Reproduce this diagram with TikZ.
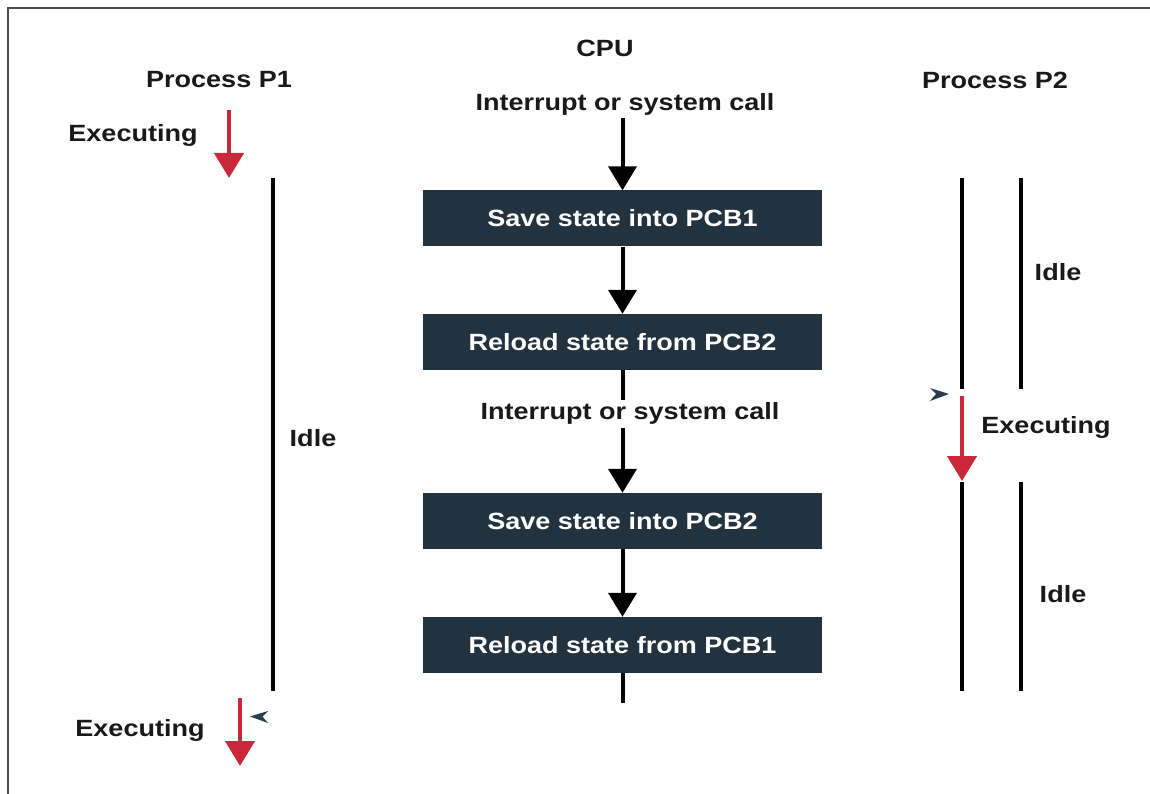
\documentclass[tikz,border=0pt]{standalone}
\usepackage{fontspec}
\setmainfont{Liberation Sans}[FakeStretch=1.15]
\usetikzlibrary{arrows.meta}
\definecolor{boxc}{HTML}{22323F}
\definecolor{redc}{HTML}{C8283A}
\definecolor{headc}{HTML}{2B3D4F}
\tikzset{
  lbl/.style={font=\fontsize{23.5}{28}\selectfont\bfseries, inner sep=0pt, text=black!90},
  box/.style={fill=boxc, minimum width=399pt, minimum height=56pt, inner sep=0pt,
    font=\fontsize{23.5}{28}\selectfont\bfseries, text=white},
  flow/.style={line width=4pt, -{Triangle[width=28pt,length=24pt]}},
  plain/.style={line width=4pt},
  redarrow/.style={line width=4.5pt, redc, -{Triangle[width=29pt,length=25pt]}},
  idle/.style={line width=4pt}
}
\begin{document}
\begin{tikzpicture}[x=1pt,y=-1pt]
\useasboundingbox (0,0) rectangle (1150,794);
\draw[line width=2pt, black!70] (8,794) -- (8,8) -- (1150,8);

% headings
\node[lbl] (cpu) at (605,48) {CPU};
\node[lbl] (p1) at (219,80) {Process P1};
\node[lbl] (p2) at (995,80) {Process P2};

% CPU column
\node[lbl] (int1) at (625,104) {Interrupt or system call};
\node[box] (b1) at (622.5,218.5) {Save state into PCB1};
\node[box] (b2) at (622.5,342) {Reload state from PCB2};
\node[lbl] (int2) at (630,413) {Interrupt or system call};
\node[box] (b3) at (622.5,521) {Save state into PCB2};
\node[box] (b4) at (622.5,645) {Reload state from PCB1};
\coordinate (a1) at (622.5,118);
\coordinate (a2) at (622.5,400);
\coordinate (a3) at (622.5,428);
\coordinate (a4) at (622.5,703);

\draw[flow] (a1) -- (b1.north);
\draw[flow] (b1.south) -- (b2.north);
\draw[plain] (b2.south) -- (a2);
\draw[flow] (a3) -- (b3.north);
\draw[flow] (b3.south) -- (b4.north);
\draw[plain] (b4.south) -- (a4);

% Process P1
\node[lbl] (ex1) at (133,135) {Executing};
\coordinate (r1s) at (229,110);
\coordinate (r1e) at (229,178);
\draw[redarrow] (r1s) -- (r1e);
\coordinate (l1s) at (273,178);
\coordinate (l1e) at (273,691);
\draw[idle] (l1s) -- (l1e);
\node[lbl] (idle1) at (313,438) {Idle};
\node[lbl] (ex2) at (140,730) {Executing};
\coordinate (r2s) at (240,698);
\coordinate (r2e) at (240,766);
\draw[redarrow] (r2s) -- (r2e);
\fill[headc] (250,716.5) -- (268,711) -- (262.5,716.5) -- (268,723) -- cycle;

% Process P2
\coordinate (l2s) at (962,178);
\coordinate (l2e) at (962,389);
\coordinate (l3s) at (1021,178);
\coordinate (l3e) at (1021,389);
\draw[idle] (l2s) -- (l2e);
\draw[idle] (l3s) -- (l3e);
\node[lbl] (idle2) at (1058,272) {Idle};
\fill[headc] (949,394) -- (930,388) -- (936,394) -- (930,401) -- cycle;
\coordinate (r3s) at (962,396);
\coordinate (r3e) at (962,481);
\draw[redarrow] (r3s) -- (r3e);
\node[lbl] (ex3) at (1046,427) {Executing};
\coordinate (l4s) at (962,482);
\coordinate (l4e) at (962,691);
\coordinate (l5s) at (1021,482);
\coordinate (l5e) at (1021,691);
\draw[idle] (l4s) -- (l4e);
\draw[idle] (l5s) -- (l5e);
\node[lbl] (idle3) at (1063,594) {Idle};
\end{tikzpicture}
\end{document}
